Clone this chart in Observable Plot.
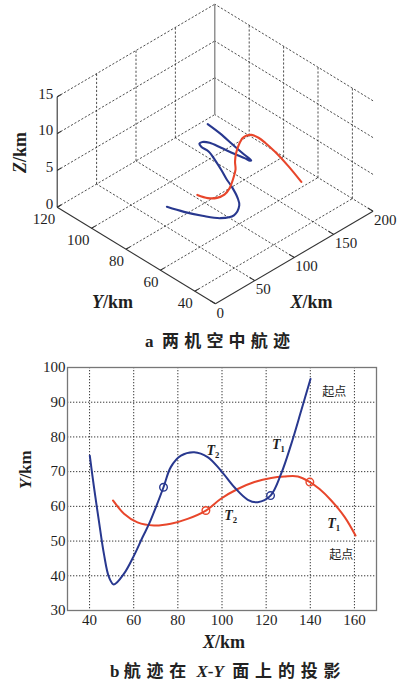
<!DOCTYPE html>
<html>
<head>
<meta charset="utf-8">
<script src="https://cdn.jsdelivr.net/npm/d3@7"></script>
<script src="https://cdn.jsdelivr.net/npm/@observablehq/plot@0.6"></script>
<style>
  html, body { margin: 0; padding: 0; background: #fff; }
  body { width: 398px; height: 686px; overflow: hidden; font-family: "Liberation Serif", serif; color: #222; }
  svg { display: block; }
  .cap { font-family: "Liberation Serif", "Noto Sans CJK SC", serif; font-weight: bold; font-size: 17px; color: #222; white-space: nowrap; }
  .cjk { font-family: "Noto Sans CJK SC", sans-serif; letter-spacing: 5.2px; }
  .cjkb { font-family: "Noto Sans CJK SC", sans-serif; letter-spacing: 5.8px; }
</style>
</head>
<body>
<div id="chartTop" style="height:328px"></div>
<div class="cap" style="height:24px;line-height:24px;padding-left:145px">a&nbsp; <span class="cjk">两机空中航迹</span></div>
<div id="chartBottom" style="height:305px"></div>
<div class="cap" style="height:26px;line-height:26px;padding-left:110px">b&nbsp;<span class="cjkb">航迹在</span> <i>X</i>-<i>Y</i>&nbsp; <span class="cjkb">面上的投影</span></div>
<script>
// ---------- data ----------
// blue trajectory (from its start point "起点" at upper right)
const blueX = [140.1, 135.9, 131.4, 126.8, 122.0, 116.2, 111.7, 105.6, 99.5, 93.5, 87.4, 81.4, 76.8, 73.5, 70.2, 67.0, 64.0, 60.1, 55.6, 51.0, 48.8, 46.5, 44.2, 42.0, 40.1];
const blueY = [96.7, 87.6, 78.0, 69.4, 63.1, 61.2, 61.9, 65.5, 70.3, 74.2, 75.6, 74.6, 71.3, 65.5, 60.0, 55.0, 51.1, 45.8, 40.6, 37.5, 39.6, 46.3, 55.9, 65.5, 74.6];
const blueZ = [5.8, 6.1, 6.2, 6.4, 6.8, 7.4, 7.9, 8.4, 8.9, 9.4, 9.7, 10.0, 10.3, 10.7, 10.4, 10.0, 9.7, 9.5, 9.1, 8.8, 7.3, 6.1, 5.2, 4.5, 4.0];
// red trajectory (from its start point "起点" at lower right)
const redX = [160.5, 155.6, 149.5, 144.2, 139.8, 134.4, 128.3, 122.3, 114.7, 107.1, 99.5, 92.7, 84.4, 76.8, 69.2, 61.7, 55.6, 50.6];
const redY = [51.6, 56.9, 61.7, 65.0, 67.0, 68.6, 68.6, 68.2, 67.0, 65.0, 62.2, 58.8, 56.4, 55.0, 54.5, 55.4, 57.9, 61.7];
const redZ = [3.1, 4.8, 6.4, 7.5, 8.2, 8.7, 9.0, 9.1, 8.8, 8.5, 8.2, 8.0, 7.6, 7.0, 6.7, 6.6, 6.6, 6.8];
// time markers T1 / T2 (circles)
const blueMarkX = [73.5, 122.0], blueMarkY = [65.5, 63.1];
const redMarkX = [92.7, 139.8], redMarkY = [58.8, 67.0];
// annotation labels
const noteText = ["起点", "起点", "T2", "T1", "T2", "T1"];
const noteX = [150.9, 154.0, 95.9, 125.6, 103.9, 150.6];
const noteY = [92.8, 46.0, 76.2, 77.7, 57.5, 55.1];
// ticks
const xTicks2d = [40, 60, 80, 100, 120, 140, 160];
const yTicks2d = [30, 40, 50, 60, 70, 80, 90, 100];
const xTicks3d = [0, 50, 100, 150, 200];
const yTicks3d = [40, 60, 80, 100, 120];
const zTicks3d = [0, 5, 10, 15];
const xLim3d = [0, 200], yLim3d = [28, 120], zLim3d = [0, 15];

const BLUE = "#28388f", RED = "#e8462b", INK = "#1e1e1e";

// ---------- rich text (italic letters, subscripts) ----------
function richify(svg) {
  d3.select(svg).selectAll("text").each(function () {
    const s = this.textContent, el = d3.select(this);
    let m;
    if ((m = s.match(/^([XYZ])(\/km)$/))) {
      el.text("");
      el.append("tspan").attr("font-style", "italic").text(m[1]);
      el.append("tspan").text(m[2]);
    } else if ((m = s.match(/^T([12])$/))) {
      el.text("");
      el.append("tspan").attr("font-style", "italic").text("T");
      el.append("tspan").attr("font-size", "0.62em").attr("dy", "0.35em").text(m[1]);
    }
  });
  return svg;
}

// ---------- 3D view (oblique MATLAB-like projection) ----------
const view = {ox: 56.7, oy: 206.7, xdx: 0.788, xdy: -0.463, ydx: 1.72, ydy: 1.05, zdy: 7.36};
function proj(X, Y, Z) {
  const dy = yLim3d[1] - Y;
  return [view.ox + view.xdx * X + view.ydx * dy, view.oy + view.xdy * X + view.ydy * dy - view.zdy * Z];
}
function seg(list, a, b) {
  const p = proj(...a), q = proj(...b);
  list.push({x1: p[0], y1: p[1], x2: q[0], y2: q[1]});
}
const [X0, X1] = xLim3d, [Y0, Y1] = yLim3d, [Z0, Z1] = zLim3d;
const dashed = [];
xTicks3d.forEach(x => { if (x > X0) seg(dashed, [x, Y0, Z0], [x, Y1, Z0]); });
yTicks3d.forEach(y => seg(dashed, [X0, y, Z0], [X1, y, Z0]));
xTicks3d.forEach(x => { if (x > X0 && x < X1) seg(dashed, [x, Y1, Z0], [x, Y1, Z1]); });
zTicks3d.forEach(z => { if (z > Z0) seg(dashed, [X0, Y1, z], [X1, Y1, z]); });
yTicks3d.forEach(y => { if (y < Y1) seg(dashed, [X1, y, Z0], [X1, y, Z1]); });
zTicks3d.forEach(z => { if (z > Z0) seg(dashed, [X1, Y0, z], [X1, Y1, z]); });

const axes3d = [];
seg(axes3d, [X0, Y1, Z0], [X0, Y1, Z1]);
seg(axes3d, [X0, Y0, Z0], [X0, Y1, Z0]);
seg(axes3d, [X0, Y0, Z0], [X1, Y0, Z0]);
zTicks3d.forEach(z => seg(axes3d, [X0, Y1, z], [X0 + 5, Y1, z]));
yTicks3d.forEach(y => seg(axes3d, [X0, y, Z0], [X0 + 5, y, Z0]));
xTicks3d.forEach(x => seg(axes3d, [x, Y0, Z0], [x, Y0 + 3, Z0]));
const backEdge = [];
seg(backEdge, [X1, Y1, Z0], [X1, Y1, Z1]);

const toPts = (xs, ys, zs) => xs.map((x, i) => { const p = proj(x, ys[i], zs[i]); return {px: p[0], py: p[1]}; });
const blue3d = toPts(blueX, blueY, blueZ);
const red3d = toPts(redX, redY, redZ);

const zLab = zTicks3d.map(z => { const p = proj(X0, Y1, z); return {px: p[0], py: p[1], t: String(z)}; });
const yLab = yTicks3d.map(y => { const p = proj(X0, y, Z0); return {px: p[0], py: p[1], t: String(y)}; });
const xLab = xTicks3d.map(x => { const p = proj(x, Y0, Z0); return {px: p[0], py: p[1], t: String(x)}; });

const chart3d = Plot.plot({
  width: 398, height: 328, margin: 0,
  x: {type: "identity", axis: null},
  y: {type: "identity", axis: null},
  style: {fontFamily: "'Liberation Serif', serif", fontSize: "15px", color: INK, background: "transparent"},
  marks: [
    Plot.link(dashed, {x1: "x1", y1: "y1", x2: "x2", y2: "y2", stroke: "#222", strokeWidth: 0.8, strokeDasharray: "2.2,1.8"}),
    Plot.link(backEdge, {x1: "x1", y1: "y1", x2: "x2", y2: "y2", stroke: "#777", strokeWidth: 1.2}),
    Plot.link(axes3d, {x1: "x1", y1: "y1", x2: "x2", y2: "y2", stroke: "#333", strokeWidth: 1.1}),
    Plot.line(blue3d, {x: "px", y: "py", curve: "catmull-rom", stroke: BLUE, strokeWidth: 2.1}),
    Plot.line(red3d, {x: "px", y: "py", curve: "catmull-rom", stroke: RED, strokeWidth: 2.1}),
    Plot.text(zLab, {x: "px", y: "py", text: "t", textAnchor: "end", dx: -4, dy: -3, fontSize: 15}),
    Plot.text(yLab, {x: "px", y: "py", text: "t", textAnchor: "end", dx: -2, dy: 12, fontSize: 15}),
    Plot.text(xLab, {x: "px", y: "py", text: "t", textAnchor: "start", dx: 1, dy: 9, fontSize: 15}),
    Plot.text(["Z/km"], {x: () => 20, y: () => 152, text: d => d, rotate: -90, fontSize: 18, fontWeight: "bold"}),
    Plot.text(["Y/km"], {x: () => 112, y: () => 302, text: d => d, fontSize: 18, fontWeight: "bold"}),
    Plot.text(["X/km"], {x: () => 311, y: () => 302, text: d => d, fontSize: 18, fontWeight: "bold"})
  ]
});
document.getElementById("chartTop").appendChild(richify(chart3d));

// ---------- 2D projection ----------
const blue2d = blueX.map((x, i) => ({x, y: blueY[i]}));
const red2d = redX.map((x, i) => ({x, y: redY[i]}));
const blueMarks = blueMarkX.map((x, i) => ({x, y: blueMarkY[i]}));
const redMarks = redMarkX.map((x, i) => ({x, y: redMarkY[i]}));
const notes = noteText.map((t, i) => ({t, x: noteX[i], y: noteY[i]}));

const chart2d = Plot.plot({
  width: 398, height: 305,
  marginTop: 15, marginBottom: 47, marginLeft: 67, marginRight: 22,
  x: {domain: [30, 170]},
  y: {domain: [30, 100]},
  style: {fontFamily: "'Liberation Serif', serif", fontSize: "15px", color: INK, background: "transparent"},
  marks: [
    Plot.gridX(xTicks2d, {stroke: "#222", strokeOpacity: 0.9, strokeWidth: 1, strokeDasharray: "1.3,1.7"}),
    Plot.gridY(yTicks2d, {stroke: "#222", strokeOpacity: 0.9, strokeWidth: 1, strokeDasharray: "1.3,1.7"}),
    Plot.frame({stroke: "#777", strokeWidth: 1.3}),
    Plot.axisX(xTicks2d, {tickSize: 0, tickPadding: 4, label: null, fontSize: 15}),
    Plot.axisY(yTicks2d, {tickSize: 0, tickPadding: 2, label: null, fontSize: 15}),
    Plot.line(red2d, {x: "x", y: "y", curve: "catmull-rom", stroke: RED, strokeWidth: 2}),
    Plot.line(blue2d, {x: "x", y: "y", curve: "catmull-rom", stroke: BLUE, strokeWidth: 2}),
    Plot.dot(blueMarks, {x: "x", y: "y", r: 3.8, stroke: BLUE, strokeWidth: 1.4, fill: "none"}),
    Plot.dot(redMarks, {x: "x", y: "y", r: 3.8, stroke: RED, strokeWidth: 1.4, fill: "none"}),
    Plot.text(notes.filter(d => d.t === "起点"), {x: "x", y: "y", text: "t", fontFamily: "'Noto Sans CJK SC', sans-serif", fontSize: 12}),
    Plot.text(notes.filter(d => d.t !== "起点"), {x: "x", y: "y", text: "t", fontSize: 14, fontWeight: "bold"}),
    Plot.text(["X/km"], {frameAnchor: "bottom", text: d => d, dx: 2, dy: 37, fontSize: 18, fontWeight: "bold"}),
    Plot.text(["Y/km"], {frameAnchor: "left", text: d => d, dx: -42, rotate: -90, fontSize: 17, fontWeight: "bold"})
  ]
});
document.getElementById("chartBottom").appendChild(richify(chart2d));
</script>
</body>
</html>
